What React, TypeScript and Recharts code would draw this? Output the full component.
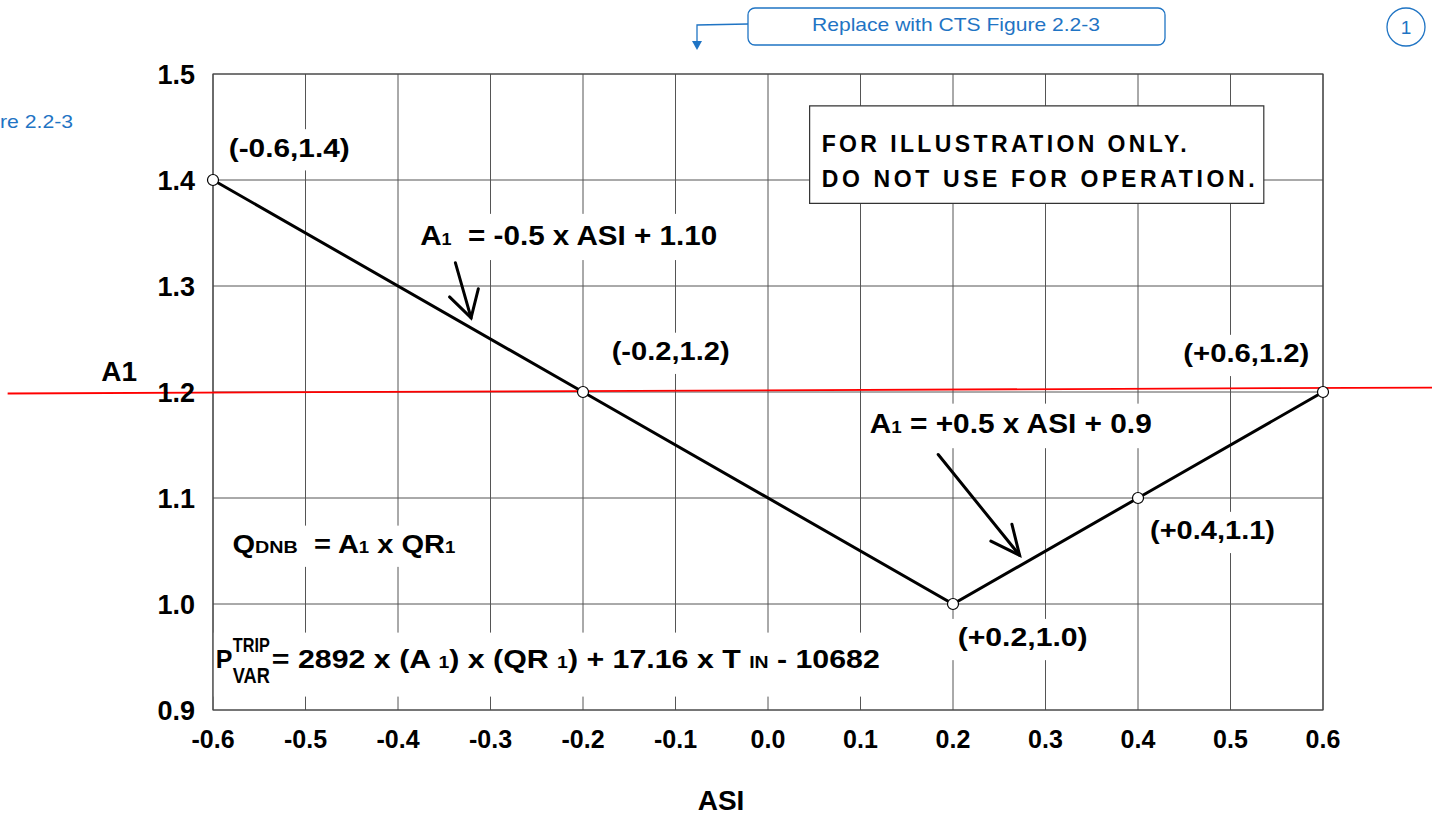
import React from "react";
import {
  LineChart,
  Line,
  XAxis,
  YAxis,
  CartesianGrid,
  ReferenceLine,
  ReferenceDot,
  ReferenceArea,
} from "recharts";

const FONT = '"Liberation Sans", Arial, Helvetica, sans-serif';
const BLUE = "#1f74c4";

// A1 break points (ASI, A1)
const asiValues = [-0.6, -0.2, 0.2, 0.4, 0.6];
const a1Values = [1.4, 1.2, 1.0, 1.1, 1.2];

const xTicks = [-0.6, -0.5, -0.4, -0.3, -0.2, -0.1, 0.0, 0.1, 0.2, 0.3, 0.4, 0.5, 0.6];
const yTicks = [0.9, 1.0, 1.1, 1.2, 1.3, 1.4, 1.5];

const pointLabels = ["(-0.6,1.4)", "(-0.2,1.2)", "(+0.2,1.0)", "(+0.4,1.1)", "(+0.6,1.2)"];
// where each point label sits (ASI, A1 of the text baseline start)
const pointLabelAnchors = [
  { x: -0.583, y: 1.422, w: 121 },
  { x: -0.169, y: 1.23, w: 118 },
  { x: 0.205, y: 0.96, w: 130 },
  { x: 0.413, y: 1.061, w: 125 },
  { x: 0.449, y: 1.228, w: 126 },
];

// equation labels and their arrows
const eqLeft = [
  { t: "A", s: 28 },
  { t: "1", s: 17 },
  { t: "  = -0.5 x ASI + 1.10", s: 28 },
];
const eqRight = [
  { t: "A", s: 27 },
  { t: "1", s: 17 },
  { t: " = +0.5 x ASI + 0.9", s: 27 },
];
const qdnb = [
  { t: "Q", s: 25 },
  { t: "DNB", s: 17 },
  { t: "  = A", s: 25 },
  { t: "1", s: 16 },
  { t: " x QR", s: 25 },
  { t: "1", s: 16 },
];
const tripRest = [
  { t: "= 2892 x (A ", s: 25 },
  { t: "1", s: 16 },
  { t: ") x (QR ", s: 25 },
  { t: "1", s: 16 },
  { t: ") + 17.16 x T ", s: 25 },
  { t: "IN", s: 16 },
  { t: " - 10682", s: 25 },
];

const arrowLeft = [
  { x: -0.338, y: 1.322 },
  { x: -0.321, y: 1.27 },
];
const arrowRight = [
  { x: 0.184, y: 1.141 },
  { x: 0.272, y: 1.046 },
];

const warnLines = ["FOR ILLUSTRATION ONLY.", "DO NOT USE FOR OPERATION."];

// red marker line across the page
const redLine = [
  { x: -0.822, y: 1.1986 },
  { x: 0.718, y: 1.2042 },
];

const chartData = asiValues.map((asi, i) => ({ asi, a1: a1Values[i] }));

type Part = { t: string; s: number };

const Note = ({
  cx,
  cy,
  parts,
  width,
  bg = true,
  adjust = "spacingAndGlyphs",
}: {
  cx: number;
  cy: number;
  parts: Part[];
  width: number;
  bg?: boolean;
  adjust?: string;
}) => {
  const size = Math.max(...parts.map((p) => p.s));
  return (
    <g>
      {bg && (
        <rect
          x={cx - 7}
          y={cy - size * 1.1}
          width={width + 14}
          height={size * 1.65}
          fill="#fff"
        />
      )}
      <text
        x={cx}
        y={cy}
        textLength={width}
        lengthAdjust={adjust}
        fontFamily={FONT}
        fontWeight={700}
        fill="#000"
        style={{ whiteSpace: "pre" }}
      >
        {parts.map((p, i) => (
          <tspan key={i} fontSize={p.s}>
            {p.t}
          </tspan>
        ))}
      </text>
    </g>
  );
};

const TripFormula = ({ cx, cy }: { cx: number; cy: number }) => (
  <g fontFamily={FONT} fontWeight={700} fill="#000">
    <rect x={cx - 1} y={cy - 35} width={672} height={64} fill="#fff" />
    <text x={cx + 1} y={cy} fontSize={25}>
      P
    </text>
    <text x={cx + 18} y={cy - 16} fontSize={21} textLength={37} lengthAdjust="spacingAndGlyphs">
      TRIP
    </text>
    <text x={cx + 18} y={cy + 15} fontSize={22} textLength={37} lengthAdjust="spacingAndGlyphs">
      VAR
    </text>
    <text
      x={cx + 57}
      y={cy}
      textLength={608}
      lengthAdjust="spacingAndGlyphs"
      style={{ whiteSpace: "pre" }}
    >
      {tripRest.map((p, i) => (
        <tspan key={i} fontSize={p.s}>
          {p.t}
        </tspan>
      ))}
    </text>
  </g>
);

const Arrow = (props: any) => {
  const { x1, y1, x2, y2, spread = 28, len = 31 } = props;
  const back = Math.atan2(y1 - y2, x1 - x2);
  const a = (spread * Math.PI) / 180;
  const w1 = { x: x2 + len * Math.cos(back + a), y: y2 + len * Math.sin(back + a) };
  const w2 = { x: x2 + len * Math.cos(back - a), y: y2 + len * Math.sin(back - a) };
  return (
    <g stroke="#000" strokeWidth={3} strokeLinecap="round" fill="none">
      <line x1={x1} y1={y1} x2={x2} y2={y2} />
      <polyline points={`${w1.x},${w1.y} ${x2},${y2} ${w2.x},${w2.y}`} />
    </g>
  );
};

const TopMarkup = () => (
  <svg
    width={1432}
    height={825}
    style={{ position: "absolute", left: 0, top: 0, pointerEvents: "none" }}
  >
    <rect x={748} y={8} width={417} height={37} rx={7} fill="#fff" stroke={BLUE} strokeWidth={1.3} />
    <text
      x={812}
      y={31}
      fontSize={19}
      fontFamily={FONT}
      fill={BLUE}
      textLength={288}
      lengthAdjust="spacingAndGlyphs"
    >
      Replace with CTS Figure 2.2-3
    </text>
    <polyline points="748,24 697,25 697,42" fill="none" stroke={BLUE} strokeWidth={1.3} />
    <polygon points="692,41 702,41 697,50" fill={BLUE} />
    <circle cx={1406} cy={27} r={19} fill="#fff" stroke={BLUE} strokeWidth={1.3} />
    <text x={1406} y={34} fontSize={19} fontFamily={FONT} fill={BLUE} textAnchor="middle">
      1
    </text>
    <text x={0} y={128} fontSize={19} fontFamily={FONT} fill={BLUE} textLength={73} lengthAdjust="spacingAndGlyphs">
      re 2.2-3
    </text>
  </svg>
);

export default function App() {
  return (
    <div style={{ position: "absolute", left: 0, top: 0, width: 1432, height: 825, background: "#fff" }}>
      <LineChart
        width={1432}
        height={825}
        data={chartData}
        margin={{ top: 74, right: 109, bottom: 75, left: 153 }}
      >
        <CartesianGrid stroke="#555" strokeWidth={1} />
        <XAxis
          dataKey="asi"
          type="number"
          domain={[-0.6, 0.6]}
          ticks={xTicks}
          interval={0}
          height={40}
          axisLine={false}
          tickLine={false}
          tickSize={0}
          tickMargin={20}
          tickFormatter={(v: number) => v.toFixed(1)}
          tick={{ fontSize: 25, fontWeight: 700, fill: "#000", fontFamily: FONT }}
          label={{
            value: "ASI",
            position: "bottom",
            offset: 40,
            dx: -47,
            fontSize: 28,
            fontWeight: 700,
            fill: "#000",
            fontFamily: FONT,
          }}
        />
        <YAxis
          type="number"
          domain={[0.9, 1.5]}
          ticks={yTicks}
          interval={0}
          width={60}
          axisLine={false}
          tickLine={false}
          tickSize={0}
          tickMargin={18}
          tickFormatter={(v: number) => v.toFixed(1)}
          tick={{ fontSize: 27, fontWeight: 700, fill: "#000", fontFamily: FONT }}
          label={{
            value: "A1",
            position: "left",
            offset: 16,
            dy: -21,
            fontSize: 28,
            fontWeight: 700,
            fill: "#000",
            fontFamily: FONT,
          }}
        />
        <ReferenceArea
          x1={-0.6}
          x2={0.6}
          y1={0.9}
          y2={1.5}
          fill="none"
          fillOpacity={0}
          stroke="#444"
          strokeWidth={1.2}
        />
        {pointLabels.map((txt, i) => (
          <ReferenceDot
            key={txt}
            x={pointLabelAnchors[i].x}
            y={pointLabelAnchors[i].y}
            r={0}
            shape={(p: any) => (
              <Note cx={p.cx} cy={p.cy} width={pointLabelAnchors[i].w} parts={[{ t: txt, s: 25 }]} />
            )}
          />
        ))}
        <ReferenceDot
          x={-0.376}
          y={1.339}
          r={0}
          shape={(p: any) => <Note cx={p.cx} cy={p.cy} width={297} parts={eqLeft} />}
        />
        <ReferenceDot
          x={0.11}
          y={1.161}
          r={0}
          shape={(p: any) => <Note cx={p.cx} cy={p.cy} width={282} parts={eqRight} />}
        />
        <ReferenceDot
          x={-0.579}
          y={1.048}
          r={0}
          shape={(p: any) => <Note cx={p.cx} cy={p.cy} width={223} parts={qdnb} />}
        />
        <ReferenceDot
          x={-0.598}
          y={0.94}
          r={0}
          shape={(p: any) => <TripFormula cx={p.cx} cy={p.cy} />}
        />
        <ReferenceArea
          x1={0.045}
          x2={0.536}
          y1={1.378}
          y2={1.47}
          fill="#fff"
          fillOpacity={1}
          stroke="#333"
          strokeWidth={1.2}
        />
        {warnLines.map((txt, i) => (
          <ReferenceDot
            key={txt}
            x={0.058}
            y={i === 0 ? 1.4264 : 1.3934}
            r={0}
            shape={(p: any) => (
              <Note
                cx={p.cx}
                cy={p.cy}
                width={i === 0 ? 365 : 433}
                bg={false}
                adjust="spacing"
                parts={[{ t: txt, s: 23 }]}
              />
            )}
          />
        ))}
        <Line
          dataKey="a1"
          type="linear"
          stroke="#000"
          strokeWidth={3}
          dot={{ r: 5.5, fill: "#fff", stroke: "#000", strokeWidth: 1.2 }}
          activeDot={false}
          isAnimationActive={false}
        />
        <ReferenceLine
          segment={arrowLeft}
          ifOverflow="visible"
          shape={(p: any) => <Arrow {...p} spread={30} len={30} />}
        />
        <ReferenceLine
          segment={arrowRight}
          ifOverflow="visible"
          shape={(p: any) => <Arrow {...p} spread={25} len={32} />}
        />
        <ReferenceLine segment={redLine} ifOverflow="visible" stroke="#ff0000" strokeWidth={1.8} />
      </LineChart>
      <TopMarkup />
    </div>
  );
}
